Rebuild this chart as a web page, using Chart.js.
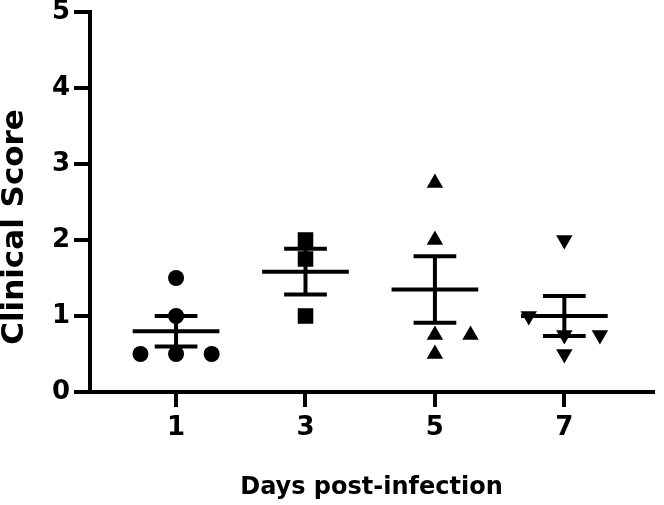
<!DOCTYPE html>
<html>
<head>
<meta charset="utf-8">
<script src="https://cdn.jsdelivr.net/npm/chart.js@4.4.0/dist/chart.umd.min.js"></script>
<style>
  html, body { margin: 0; padding: 0; background: #fff; }
</style>
</head>
<body>
<canvas id="score-chart" width="664" height="505"></canvas>
<script>
// Dados
const days = [1, 3, 5, 7];
const yTicks = [0, 1, 2, 3, 4, 5];
const day1Scores = [1.5, 1.0, 0.5, 0.5, 0.5];
const day3Scores = [2.0, 1.75, 1.0];
const day5Scores = [2.75, 2.0, 0.75, 0.75, 0.5];
const day7Scores = [2.0, 1.0, 0.75, 0.75, 0.5];
// coluna lateral de cada ponto (valores repetidos ficam lado a lado)
const day1Slots = [0, 0, -1, 0, 1];
const day3Slots = [0, 0, 0];
const day5Slots = [0, 0, 0, 1, 0];
const day7Slots = [0, -1, 0, 1, 0];

const groups = [day1Scores, day3Scores, day5Scores, day7Scores];
const slots = [day1Slots, day3Slots, day5Slots, day7Slots];
const shapes = ['circle', 'rect', 'triangle', 'triangle'];
const rotations = [0, 0, 0, 180];
const radii = [8, 11, 9.5, 9.5];

const slotGap = 0.55;
const fontFamily = '"DejaVu Sans", sans-serif';
const yTitle = 'Clinical Score';

function mean(v) {
    return v.reduce((a, b) => a + b, 0) / v.length;
}
function sem(v) {
    const m = mean(v);
    const sd = Math.sqrt(v.reduce((a, b) => a + (b - m) * (b - m), 0) / (v.length - 1));
    return sd / Math.sqrt(v.length);
}

// Média ± EPM de cada grupo
const meanSemPlugin = {
    id: 'meanSem',
    beforeDatasetsDraw(chart) {
        const ctx = chart.ctx;
        const xs = chart.scales.x;
        const ys = chart.scales.y;
        const line = (x1, y1, x2, y2) => {
            ctx.beginPath();
            ctx.moveTo(xs.getPixelForValue(x1), ys.getPixelForValue(y1));
            ctx.lineTo(xs.getPixelForValue(x2), ys.getPixelForValue(y2));
            ctx.stroke();
        };
        ctx.save();
        ctx.strokeStyle = '#000';
        ctx.lineWidth = 4;
        groups.forEach((vals, i) => {
            const m = mean(vals);
            const s = sem(vals);
            const cx = days[i];
            line(cx - 0.67, m, cx + 0.67, m);
            line(cx, m - s, cx, m + s);
            line(cx - 0.33, m + s, cx + 0.33, m + s);
            line(cx - 0.33, m - s, cx + 0.33, m - s);
        });
        ctx.restore();
    }
};

// Título do eixo Y (um pouco abaixo do centro, como no original)
const yTitlePlugin = {
    id: 'yTitle',
    afterDraw(chart) {
        const ctx = chart.ctx;
        ctx.save();
        ctx.translate(15, 227);
        ctx.rotate(-Math.PI / 2);
        ctx.font = 'bold 31px ' + fontFamily;
        ctx.fillStyle = '#000';
        ctx.textAlign = 'center';
        ctx.textBaseline = 'middle';
        ctx.fillText(yTitle, 0, 0);
        ctx.restore();
    }
};

const datasets = groups.map((vals, i) => ({
    label: 'Day ' + days[i],
    data: vals.map((v, j) => ({ x: days[i] + slots[i][j] * slotGap, y: v })),
    pointStyle: shapes[i],
    rotation: rotations[i],
    pointRadius: radii[i],
    backgroundColor: '#000',
    borderColor: '#000',
    borderWidth: 0,
    showLine: false,
    clip: false
}));

const scoreChart = document.getElementById('score-chart');
new Chart(scoreChart, {
    type: 'scatter',
    data: { datasets: datasets },
    plugins: [meanSemPlugin, yTitlePlugin],
    options: {
        responsive: false,
        animation: false,
        layout: { padding: { top: 12, right: 2, left: 0, bottom: 0 } },
        plugins: {
            legend: { display: false },
            tooltip: { enabled: false }
        },
        scales: {
            x: {
                type: 'linear',
                min: -0.33,
                max: 8.37,
                afterBuildTicks: s => { s.ticks = days.map(v => ({ value: v })); },
                afterFit: s => { s.height = 113; s.paddingLeft = 0; s.paddingRight = 0; },
                border: { color: '#000', width: 4 },
                grid: { drawOnChartArea: false, tickLength: 15, color: '#000', lineWidth: 4 },
                ticks: {
                    color: '#000',
                    padding: 6,
                    font: { family: fontFamily, size: 26, weight: 'bold' }
                },
                title: {
                    display: true,
                    text: 'Days post-infection',
                    color: '#000',
                    padding: { top: 0, bottom: 5 },
                    font: { family: fontFamily, size: 24, weight: 'bold', lineHeight: 1 }
                }
            },
            y: {
                min: 0,
                max: 5,
                afterBuildTicks: s => { s.ticks = yTicks.map(v => ({ value: v })); },
                afterFit: s => { s.width = 90; s.paddingTop = 0; s.paddingBottom = 0; },
                border: { color: '#000', width: 4 },
                grid: { drawOnChartArea: false, tickLength: 16, color: '#000', lineWidth: 4 },
                ticks: {
                    color: '#000',
                    padding: 4,
                    font: { family: fontFamily, size: 26, weight: 'bold' }
                }
            }
        }
    }
});
</script>
</body>
</html>
